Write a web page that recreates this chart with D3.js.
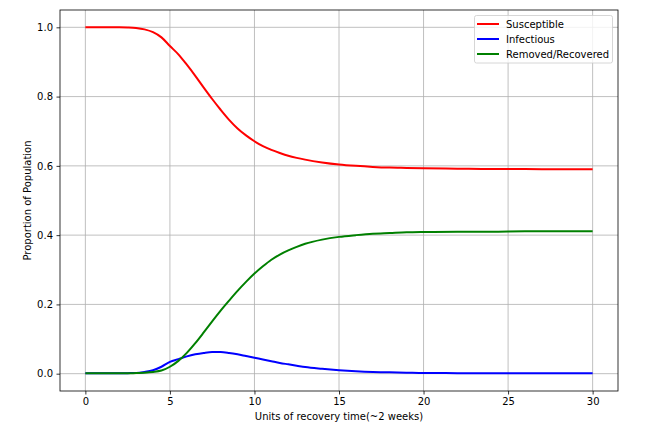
<!DOCTYPE html>
<html>
<head>
<meta charset="utf-8">
<script src="https://cdn.jsdelivr.net/npm/d3@7"></script>
<style>
  html, body { margin: 0; padding: 0; background: #fff; }
  svg { display: block; font-family: "DejaVu Sans", sans-serif; }
</style>
</head>
<body>
<svg id="chart" width="669" height="431"></svg>
<script>
// ---- data ----
const times = [0,1,2,2.5,3,3.5,4,4.5,5,5.5,6,6.5,7,7.5,8,8.5,9,9.5,10,10.5,11,11.5,12,12.5,13,14,15,16,17,18,19,20,22,24,26,28,30];
const susceptible = [1.0,1.0,1.0,0.9995,0.998,0.994,0.986,0.971,0.946,0.922,0.892,0.86,0.826,0.793,0.762,0.733,0.708,0.688,0.671,0.657,0.646,0.637,0.629,0.623,0.618,0.61,0.604,0.6,0.597,0.595,0.594,0.593,0.592,0.591,0.591,0.59,0.59];
const infectious = [0.001,0.001,0.001,0.0015,0.002,0.005,0.01,0.02,0.034,0.042,0.05,0.056,0.06,0.0625,0.0625,0.06,0.056,0.051,0.046,0.041,0.036,0.031,0.027,0.023,0.019,0.014,0.01,0.007,0.005,0.004,0.003,0.002,0.0015,0.001,0.001,0.001,0.001];
const recovered = [0.001,0.001,0.001,0.001,0.002,0.003,0.005,0.009,0.02,0.037,0.06,0.088,0.119,0.151,0.182,0.211,0.239,0.265,0.289,0.31,0.329,0.344,0.356,0.366,0.375,0.387,0.395,0.4,0.404,0.406,0.408,0.409,0.41,0.41,0.411,0.411,0.411];
const seriesNames = ["Susceptible", "Infectious", "Removed/Recovered"];
const seriesColors = ["#ff0000", "#0000ff", "#008000"];
const xTicks = [0,5,10,15,20,25,30];
const yTicks = [0.0,0.2,0.4,0.6,0.8,1.0];
const xLabel = "Units of recovery time(~2 weeks)";
const yLabel = "Proportion of Population";

// ---- layout ----
const svg = d3.select("#chart");
const mLeft = 60, mRight = 618, mTop = 10, mBottom = 391;
const x = d3.scaleLinear().domain([-1.5, 31.5]).range([mLeft, mRight]);
const y = d3.scaleLinear().domain([-0.05, 1.05]).range([mBottom, mTop]);

// grid
const grid = svg.append("g");
xTicks.forEach(t => grid.append("line")
  .attr("x1", x(t)).attr("x2", x(t)).attr("y1", mTop).attr("y2", mBottom)
  .attr("stroke", "#b0b0b0").attr("stroke-width", 0.8));
yTicks.forEach(t => grid.append("line")
  .attr("x1", mLeft).attr("x2", mRight).attr("y1", y(t)).attr("y2", y(t))
  .attr("stroke", "#b0b0b0").attr("stroke-width", 0.8));

// axes
const xAxis = d3.axisBottom(x).tickValues(xTicks).tickFormat(d3.format("d")).tickSize(3.5).tickPadding(3.5);
const yAxis = d3.axisLeft(y).tickValues(yTicks).tickFormat(d3.format(".1f")).tickSize(3.5).tickPadding(3.5);
const gx = svg.append("g").attr("transform", `translate(0,${mBottom})`).call(xAxis);
const gy = svg.append("g").attr("transform", `translate(${mLeft},0)`).call(yAxis);
[gx, gy].forEach(g => {
  g.select(".domain").remove();
  g.selectAll(".tick line").attr("stroke", "#000").attr("stroke-width", 0.8);
  g.selectAll(".tick text").attr("fill", "#000").style("font-size", "10px").style("font-family", "DejaVu Sans");
});

// lines
const data = [susceptible, infectious, recovered];
const line = d3.line().x((d, i) => x(times[i])).y(d => y(d)).curve(d3.curveMonotoneX);
data.forEach((vals, k) => {
  svg.append("path").datum(vals)
    .attr("d", line).attr("fill", "none")
    .attr("stroke", seriesColors[k]).attr("stroke-width", 2)
    .attr("stroke-linejoin", "round").attr("stroke-linecap", "butt");
});

// frame
svg.append("rect").attr("x", mLeft).attr("y", mTop).attr("width", mRight - mLeft).attr("height", mBottom - mTop)
  .attr("fill", "none").attr("stroke", "#000").attr("stroke-width", 0.8);

// labels
svg.append("text").attr("x", (mLeft + mRight) / 2).attr("y", 420).attr("text-anchor", "middle")
  .style("font-size", "10px").attr("fill", "#000").text(xLabel);
svg.append("text").attr("transform", `translate(31,${(mTop + mBottom) / 2}) rotate(-90)`).attr("text-anchor", "middle")
  .style("font-size", "10px").attr("fill", "#000").text(yLabel);

// legend
const lg = svg.append("g");
lg.append("rect").attr("x", 474.5).attr("y", 15.5).attr("width", 138).attr("height", 47.5).attr("rx", 2)
  .attr("fill", "#fff").attr("fill-opacity", 0.8).attr("stroke", "#cccccc").attr("stroke-width", 0.8);
seriesNames.forEach((name, k) => {
  const cy = 24 + k * 15;
  lg.append("line").attr("x1", 477).attr("x2", 499).attr("y1", cy).attr("y2", cy)
    .attr("stroke", seriesColors[k]).attr("stroke-width", 2);
  lg.append("text").attr("x", 506).attr("y", cy).attr("dy", "0.35em")
    .style("font-size", "10px").attr("fill", "#000").text(name);
});
</script>
</body>
</html>
